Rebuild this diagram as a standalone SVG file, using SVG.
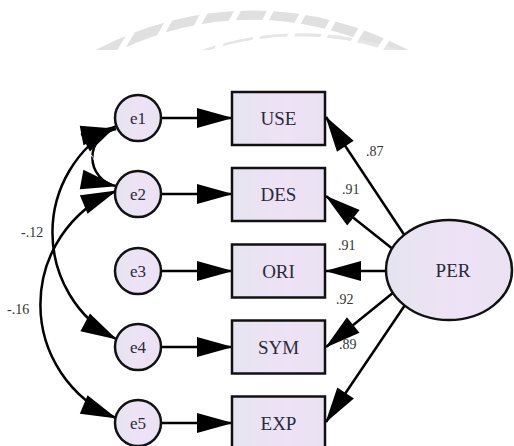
<svg xmlns="http://www.w3.org/2000/svg" width="514" height="446" viewBox="0 0 514 446">
<defs>
<linearGradient id="fillg" x1="0" y1="0" x2="1" y2="0">
<stop offset="0" stop-color="#e6e4f0"/>
<stop offset="0.6" stop-color="#eee2f6"/>
<stop offset="1" stop-color="#e9e2f2"/>
</linearGradient>
<marker id="ah" markerUnits="userSpaceOnUse" markerWidth="36" markerHeight="20" refX="35" refY="10" orient="auto-start-reverse" overflow="visible">
<path d="M0,0 L36,10 L0,20 z" fill="#000"/>
</marker>
<clipPath id="wmclip"><rect x="0" y="0" width="514" height="50"/></clipPath>
</defs>
<style>
.node{fill:url(#fillg);stroke:#111;stroke-width:2.5}
.conn{fill:none;stroke:#000;stroke-width:2.5}
.lbl{fill:#2a2a3a;text-anchor:middle}
.val{fill:#333}
</style>
<rect width="514" height="446" fill="#fff"/>
<g id="watermark" clip-path="url(#wmclip)">
<path d="M 92,52 A 330,330 0 0,1 412,52 L 388,52 A 303,303 0 0,0 116,52 z" fill="#e0e0e0"/>
<path d="M 196,52 A 296,296 0 0,1 404,52 L 392,52 A 290,290 0 0,0 204,52 z" fill="#e6e6e6"/>
<g stroke="#fff" stroke-width="6">
<line x1="116" y1="58" x2="146" y2="8"/>
<line x1="148" y1="58" x2="178" y2="4"/>
<line x1="180" y1="58" x2="210" y2="2"/>
<line x1="213" y1="58" x2="243" y2="0"/>
<line x1="246" y1="58" x2="276" y2="0"/>
<line x1="279" y1="58" x2="309" y2="2"/>
<line x1="312" y1="58" x2="342" y2="4"/>
<line x1="344" y1="58" x2="374" y2="8"/>
<line x1="374" y1="58" x2="404" y2="14"/>
</g>
</g>
<g id="connectors">
<line class="conn" x1="161" y1="118" x2="232" y2="118" marker-end="url(#ah)"/>
<line class="conn" x1="161" y1="194" x2="232" y2="194" marker-end="url(#ah)"/>
<line class="conn" x1="161" y1="271" x2="232" y2="271" marker-end="url(#ah)"/>
<line class="conn" x1="161" y1="347" x2="232" y2="347" marker-end="url(#ah)"/>
<line class="conn" x1="161" y1="423" x2="232" y2="423" marker-end="url(#ah)"/>
<line class="conn" x1="405" y1="236" x2="326" y2="117" marker-end="url(#ah)"/>
<line class="conn" x1="394" y1="250" x2="326" y2="196" marker-end="url(#ah)"/>
<line class="conn" x1="388" y1="271" x2="326" y2="271" marker-end="url(#ah)"/>
<line class="conn" x1="394" y1="292" x2="326" y2="347" marker-end="url(#ah)"/>
<line class="conn" x1="405" y1="305" x2="326" y2="422" marker-end="url(#ah)"/>
<path class="conn" d="M 116,129 A 29,29 0 0,0 116,186" marker-start="url(#ah)" marker-end="url(#ah)"/>
<path class="conn" d="M 116,126 A 121,121 0 0,0 116,339" marker-start="url(#ah)" marker-end="url(#ah)"/>
<path class="conn" d="M 116,191 A 123,123 0 0,0 116,418" marker-start="url(#ah)" marker-end="url(#ah)"/>
<text x="92" y="160" transform="rotate(-70 92 157)" font-family="Liberation Serif, Times New Roman, serif" font-size="9" fill="#fff" text-anchor="middle">2</text>
<g font-family="Liberation Serif, Times New Roman, serif" font-size="14">
<text class="val" x="366" y="156">.87</text>
<text class="val" x="342" y="194">.91</text>
<text class="val" x="338" y="250">.91</text>
<text class="val" x="336" y="304">.92</text>
<text class="val" x="339" y="349">.89</text>
<text class="val" x="21" y="237">-.12</text>
<text class="val" x="7" y="314">-.16</text>
</g>
</g>
<g font-family="Liberation Serif, Times New Roman, serif">
<g id="e1"><circle class="node" cx="138" cy="118" r="23"/><text class="lbl" font-size="17" x="138" y="124">e1</text></g>
<g id="e2"><circle class="node" cx="138" cy="194" r="23"/><text class="lbl" font-size="17" x="138" y="200">e2</text></g>
<g id="e3"><circle class="node" cx="138" cy="271" r="23"/><text class="lbl" font-size="17" x="138" y="277">e3</text></g>
<g id="e4"><circle class="node" cx="138" cy="347" r="23"/><text class="lbl" font-size="17" x="138" y="353">e4</text></g>
<g id="e5"><circle class="node" cx="138" cy="423" r="23"/><text class="lbl" font-size="17" x="138" y="429">e5</text></g>
<g id="USE"><rect class="node" x="232" y="92" width="93" height="53"/><text class="lbl" font-size="19" x="278.5" y="125">USE</text></g>
<g id="DES"><rect class="node" x="232" y="168" width="93" height="53"/><text class="lbl" font-size="19" x="278.5" y="201">DES</text></g>
<g id="ORI"><rect class="node" x="232" y="244.5" width="93" height="53"/><text class="lbl" font-size="19" x="278.5" y="277.5">ORI</text></g>
<g id="SYM"><rect class="node" x="232" y="320.5" width="93" height="53"/><text class="lbl" font-size="19" x="278.5" y="353.5">SYM</text></g>
<g id="EXP"><rect class="node" x="232" y="396.5" width="93" height="53"/><text class="lbl" font-size="19" x="278.5" y="429.5">EXP</text></g>
<g id="PER"><ellipse class="node" cx="449" cy="270" rx="63" ry="50"/><text class="lbl" x="453" y="277" font-size="19">PER</text></g>
</g>
</svg>
